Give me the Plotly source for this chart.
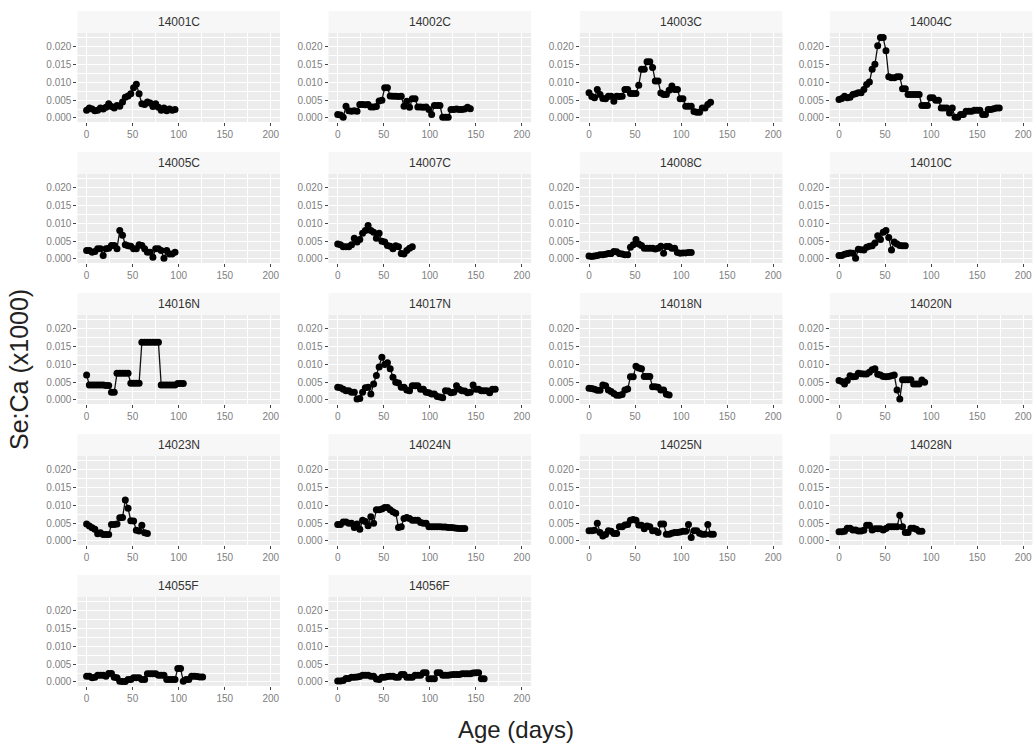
import plotly.graph_objects as go

# Sampling ages (days) shared by every fish; each series uses the first len(values) of them
sample_ages = [0, 3, 6, 9, 12, 15, 18, 21, 24, 27, 30, 33, 36, 39, 42, 45, 48, 51, 54, 57,
               60, 63, 66, 69, 72, 75, 78, 81, 84, 87, 90, 93, 96, 99, 102, 105, 108, 111,
               114, 117, 120, 123, 126, 129, 132, 135, 138, 141, 144, 147, 150, 153, 156,
               159, 162, 165, 168, 171, 174]

# Se:Ca (x1000) per fish
se_14001C = [0.0022, 0.0028, 0.0025, 0.0020, 0.0022, 0.0028, 0.0025, 0.0030, 0.0040, 0.0032,
             0.0028, 0.0035, 0.0033, 0.0045, 0.0058, 0.0062, 0.0068, 0.0085, 0.0095, 0.0068,
             0.0040, 0.0038, 0.0045, 0.0042, 0.0032, 0.0040, 0.0030, 0.0022, 0.0028, 0.0020,
             0.0025, 0.0022, 0.0024]
se_14002C = [0.0010, 0.0008, 0.0002, 0.0033, 0.0020, 0.0019, 0.0020, 0.0019, 0.0038, 0.0038,
             0.0037, 0.0038, 0.0031, 0.0031, 0.0032, 0.0048, 0.0050, 0.0085, 0.0085, 0.0062,
             0.0061, 0.0061, 0.0060, 0.0061, 0.0033, 0.0047, 0.0030, 0.0054, 0.0054, 0.0031,
             0.0031, 0.0030, 0.0031, 0.0024, 0.0010, 0.0035, 0.0035, 0.0035, 0.0002, 0.0002,
             0.0002, 0.0024, 0.0024, 0.0025, 0.0024, 0.0024, 0.0025, 0.0030, 0.0026]
se_14003C = [0.0071, 0.0060, 0.0057, 0.0080, 0.0066, 0.0055, 0.0054, 0.0061, 0.0061, 0.0047,
             0.0061, 0.0060, 0.0061, 0.0080, 0.0080, 0.0069, 0.0069, 0.0069, 0.0092, 0.0137,
             0.0137, 0.0158, 0.0158, 0.0142, 0.0104, 0.0104, 0.0070, 0.0066, 0.0066, 0.0078,
             0.0090, 0.0080, 0.0080, 0.0054, 0.0054, 0.0033, 0.0033, 0.0033, 0.0018, 0.0016,
             0.0016, 0.0028, 0.0028, 0.0038, 0.0044]
se_14004C = [0.0052, 0.0055, 0.0061, 0.0057, 0.0058, 0.0066, 0.0068, 0.0071, 0.0071, 0.0080,
             0.0094, 0.0101, 0.0137, 0.0151, 0.0203, 0.0226, 0.0226, 0.0189, 0.0116, 0.0113,
             0.0113, 0.0116, 0.0116, 0.0082, 0.0082, 0.0066, 0.0066, 0.0066, 0.0066, 0.0066,
             0.0035, 0.0035, 0.0035, 0.0057, 0.0057, 0.0050, 0.0050, 0.0028, 0.0028, 0.0028,
             0.0014, 0.0028, 0.0002, 0.0002, 0.0010, 0.0010, 0.0019, 0.0019, 0.0019, 0.0022,
             0.0022, 0.0022, 0.0010, 0.0010, 0.0024, 0.0024, 0.0026, 0.0028, 0.0028]
se_14005C = [0.0024, 0.0024, 0.0019, 0.0021, 0.0029, 0.0029, 0.0010, 0.0029, 0.0030, 0.0038,
             0.0038, 0.0029, 0.0080, 0.0067, 0.0040, 0.0037, 0.0036, 0.0029, 0.0029, 0.0040,
             0.0038, 0.0029, 0.0019, 0.0019, 0.0005, 0.0029, 0.0029, 0.0024, 0.0002, 0.0024,
             0.0014, 0.0014, 0.0019]
se_14007C = [0.0042, 0.0040, 0.0034, 0.0034, 0.0034, 0.0040, 0.0058, 0.0048, 0.0055, 0.0072,
             0.0080, 0.0094, 0.0080, 0.0075, 0.0058, 0.0072, 0.0050, 0.0048, 0.0038, 0.0036,
             0.0029, 0.0037, 0.0034, 0.0015, 0.0014, 0.0024, 0.0030, 0.0034]
se_14008C = [0.0008, 0.0007, 0.0008, 0.0010, 0.0012, 0.0012, 0.0013, 0.0015, 0.0015, 0.0021,
             0.0020, 0.0015, 0.0014, 0.0012, 0.0012, 0.0033, 0.0040, 0.0055, 0.0042, 0.0038,
             0.0030, 0.0030, 0.0030, 0.0030, 0.0028, 0.0030, 0.0036, 0.0016, 0.0035, 0.0035,
             0.0030, 0.0030, 0.0018, 0.0016, 0.0017, 0.0017, 0.0018, 0.0018]
se_14010C = [0.0010, 0.0010, 0.0013, 0.0015, 0.0017, 0.0016, 0.0002, 0.0027, 0.0026, 0.0025,
             0.0033, 0.0036, 0.0037, 0.0045, 0.0065, 0.0055, 0.0075, 0.0080, 0.0060, 0.0025,
             0.0048, 0.0042, 0.0038, 0.0037, 0.0037]
se_14016N = [0.0070, 0.0042, 0.0042, 0.0042, 0.0042, 0.0042, 0.0042, 0.0041, 0.0041, 0.0022,
             0.0022, 0.0075, 0.0075, 0.0075, 0.0075, 0.0075, 0.0047, 0.0047, 0.0047, 0.0047,
             0.0162, 0.0162, 0.0162, 0.0162, 0.0162, 0.0162, 0.0162, 0.0042, 0.0042, 0.0042,
             0.0042, 0.0042, 0.0042, 0.0046, 0.0046, 0.0046]
se_14017N = [0.0036, 0.0034, 0.0030, 0.0026, 0.0026, 0.0022, 0.0022, 0.0003, 0.0004, 0.0022,
             0.0034, 0.0036, 0.0017, 0.0045, 0.0069, 0.0093, 0.0120, 0.0100, 0.0105, 0.0088,
             0.0064, 0.0050, 0.0048, 0.0036, 0.0036, 0.0028, 0.0026, 0.0040, 0.0040, 0.0040,
             0.0030, 0.0030, 0.0022, 0.0020, 0.0017, 0.0017, 0.0010, 0.0008, 0.0006, 0.0026,
             0.0025, 0.0020, 0.0022, 0.0040, 0.0030, 0.0026, 0.0025, 0.0020, 0.0022, 0.0042,
             0.0030, 0.0030, 0.0026, 0.0026, 0.0026, 0.0020, 0.0030, 0.0030]
se_14018N = [0.0033, 0.0032, 0.0030, 0.0027, 0.0027, 0.0042, 0.0040, 0.0028, 0.0024, 0.0018,
             0.0013, 0.0013, 0.0015, 0.0028, 0.0031, 0.0065, 0.0065, 0.0095, 0.0090, 0.0088,
             0.0066, 0.0066, 0.0066, 0.0037, 0.0037, 0.0036, 0.0028, 0.0028, 0.0016, 0.0014]
se_14020N = [0.0055, 0.0052, 0.0045, 0.0055, 0.0068, 0.0065, 0.0066, 0.0075, 0.0074, 0.0073,
             0.0073, 0.0078, 0.0085, 0.0088, 0.0072, 0.0070, 0.0066, 0.0065, 0.0066, 0.0068,
             0.0070, 0.0028, 0.0003, 0.0057, 0.0057, 0.0057, 0.0057, 0.0045, 0.0045, 0.0045,
             0.0056, 0.0050]
se_14023N = [0.0048, 0.0042, 0.0037, 0.0033, 0.0020, 0.0023, 0.0018, 0.0018, 0.0018, 0.0046,
             0.0046, 0.0048, 0.0065, 0.0066, 0.0115, 0.0092, 0.0057, 0.0056, 0.0030, 0.0028,
             0.0044, 0.0023, 0.0021]
se_14024N = [0.0046, 0.0046, 0.0053, 0.0053, 0.0050, 0.0050, 0.0038, 0.0048, 0.0033, 0.0058,
             0.0055, 0.0043, 0.0068, 0.0050, 0.0088, 0.0088, 0.0090, 0.0094, 0.0094, 0.0088,
             0.0082, 0.0078, 0.0038, 0.0040, 0.0063, 0.0066, 0.0063, 0.0058, 0.0058, 0.0058,
             0.0052, 0.0050, 0.0050, 0.0040, 0.0040, 0.0040, 0.0040, 0.0040, 0.0039, 0.0039,
             0.0038, 0.0038, 0.0037, 0.0036, 0.0035, 0.0035, 0.0035]
se_14025N = [0.0029, 0.0029, 0.0030, 0.0050, 0.0024, 0.0014, 0.0018, 0.0029, 0.0027, 0.0021,
             0.0021, 0.0040, 0.0040, 0.0045, 0.0046, 0.0058, 0.0060, 0.0058, 0.0045, 0.0044,
             0.0034, 0.0042, 0.0040, 0.0029, 0.0029, 0.0024, 0.0048, 0.0048, 0.0019, 0.0019,
             0.0022, 0.0024, 0.0024, 0.0025, 0.0027, 0.0027, 0.0046, 0.0010, 0.0029, 0.0029,
             0.0022, 0.0019, 0.0019, 0.0046, 0.0019, 0.0019]
se_14028N = [0.0026, 0.0026, 0.0027, 0.0036, 0.0036, 0.0031, 0.0031, 0.0028, 0.0028, 0.0030,
             0.0044, 0.0044, 0.0031, 0.0034, 0.0034, 0.0034, 0.0031, 0.0035, 0.0040, 0.0040,
             0.0040, 0.0040, 0.0072, 0.0040, 0.0024, 0.0024, 0.0036, 0.0036, 0.0033, 0.0027,
             0.0027]
se_14055F = [0.0016, 0.0016, 0.0012, 0.0013, 0.0019, 0.0019, 0.0019, 0.0016, 0.0024, 0.0024,
             0.0013, 0.0012, 0.0002, 0.0001, 0.0001, 0.0007, 0.0007, 0.0012, 0.0012, 0.0012,
             0.0007, 0.0007, 0.0023, 0.0023, 0.0023, 0.0023, 0.0019, 0.0019, 0.0019, 0.0007,
             0.0007, 0.0007, 0.0007, 0.0038, 0.0038, 0.0002, 0.0007, 0.0007, 0.0016, 0.0016,
             0.0015, 0.0014, 0.0014]
se_14056F = [0.0003, 0.0003, 0.0004, 0.0010, 0.0010, 0.0013, 0.0013, 0.0014, 0.0015, 0.0019,
             0.0019, 0.0019, 0.0016, 0.0016, 0.0008, 0.0007, 0.0013, 0.0013, 0.0015, 0.0016,
             0.0016, 0.0013, 0.0013, 0.0021, 0.0021, 0.0013, 0.0013, 0.0013, 0.0019, 0.0019,
             0.0019, 0.0026, 0.0026, 0.0009, 0.0009, 0.0009, 0.0026, 0.0026, 0.0019, 0.0019,
             0.0019, 0.0020, 0.0021, 0.0021, 0.0021, 0.0023, 0.0023, 0.0023, 0.0023, 0.0025,
             0.0026, 0.0026, 0.0009, 0.0009]

panels = [
    ("14001C", se_14001C), ("14002C", se_14002C), ("14003C", se_14003C), ("14004C", se_14004C),
    ("14005C", se_14005C), ("14007C", se_14007C), ("14008C", se_14008C), ("14010C", se_14010C),
    ("14016N", se_14016N), ("14017N", se_14017N), ("14018N", se_14018N), ("14020N", se_14020N),
    ("14023N", se_14023N), ("14024N", se_14024N), ("14025N", se_14025N), ("14028N", se_14028N),
    ("14055F", se_14055F), ("14056F", se_14056F),
]

x_ticks = [0, 50, 100, 150, 200]
y_ticks = [0.000, 0.005, 0.010, 0.015, 0.020]

W, H = 1034, 743
col_left = [77.4, 328.5, 579.8, 829.8]
panel_w = 202.6
row_top = [33, 174, 315, 456, 597]
panel_h = 89
strip_h = 22

FONT = "Liberation Sans, Arial, Helvetica, sans-serif"
PANEL_BG = "#ECECEC"

fig = go.Figure()
layout = dict(
    width=W, height=H,
    margin=dict(l=0, r=0, t=0, b=0),
    paper_bgcolor="white", plot_bgcolor=PANEL_BG,
    showlegend=False,
    font=dict(family=FONT),
)
shapes = []
annotations = []

for i, (name, vals) in enumerate(panels):
    r, c = divmod(i, 4)
    k = "" if i == 0 else str(i + 1)
    x0 = col_left[c] / W
    x1 = (col_left[c] + panel_w) / W
    y1 = 1 - row_top[r] / H
    y0 = 1 - (row_top[r] + panel_h) / H

    fig.add_trace(go.Scatter(
        x=sample_ages[:len(vals)], y=vals,
        mode="lines+markers",
        line=dict(color="#111111", width=1.3),
        marker=dict(color="black", size=7),
        xaxis="x" + k, yaxis="y" + k,
        hoverinfo="skip",
    ))

    layout["xaxis" + k] = dict(
        domain=[x0, x1], anchor="y" + k, range=[-10, 210],
        tickvals=x_ticks, ticktext=[str(v) for v in x_ticks],
        showgrid=True, gridcolor="white", gridwidth=1.1,
        minor=dict(dtick=25, tick0=0, showgrid=True, gridcolor="white", gridwidth=0.5),
        zeroline=False, showline=False,
        ticks="outside", ticklen=3, tickwidth=1, tickcolor="#444444",
        tickfont=dict(size=10, color="#808080", family=FONT),
        fixedrange=True,
    )
    layout["yaxis" + k] = dict(
        domain=[y0, y1], anchor="x" + k, range=[-0.00114, 0.0239],
        tickvals=y_ticks, ticktext=["%.3f" % v for v in y_ticks],
        showgrid=True, gridcolor="white", gridwidth=1.1,
        minor=dict(dtick=0.0025, tick0=0, showgrid=True, gridcolor="white", gridwidth=0.5),
        zeroline=False, showline=False,
        ticks="outside", ticklen=3, tickwidth=1, tickcolor="#444444",
        tickfont=dict(size=10, color="#808080", family=FONT),
        fixedrange=True,
    )

    # facet strip
    shapes.append(dict(
        type="rect", xref="paper", yref="paper", layer="below",
        x0=x0, x1=x1, y0=y1, y1=1 - (row_top[r] - strip_h) / H,
        fillcolor="#F7F7F7", line=dict(width=0),
    ))
    annotations.append(dict(
        text=name, xref="paper", yref="paper",
        x=(x0 + x1) / 2, y=1 - (row_top[r] - strip_h / 2) / H,
        xanchor="center", yanchor="middle", showarrow=False,
        font=dict(size=12, color="#333333", family=FONT),
    ))

annotations.append(dict(
    text="Age (days)", xref="paper", yref="paper",
    x=516 / W, y=1 - 729 / H, xanchor="center", yanchor="middle", showarrow=False,
    font=dict(size=24, color="#222222", family=FONT),
))
annotations.append(dict(
    text="Se:Ca (x1000)", xref="paper", yref="paper",
    x=19 / W, y=1 - 370 / H, xanchor="center", yanchor="middle", showarrow=False,
    textangle=-90,
    font=dict(size=25, color="#222222", family=FONT),
))

layout["shapes"] = shapes
layout["annotations"] = annotations
fig.update_layout(**layout)
fig.write_html("out.html")
